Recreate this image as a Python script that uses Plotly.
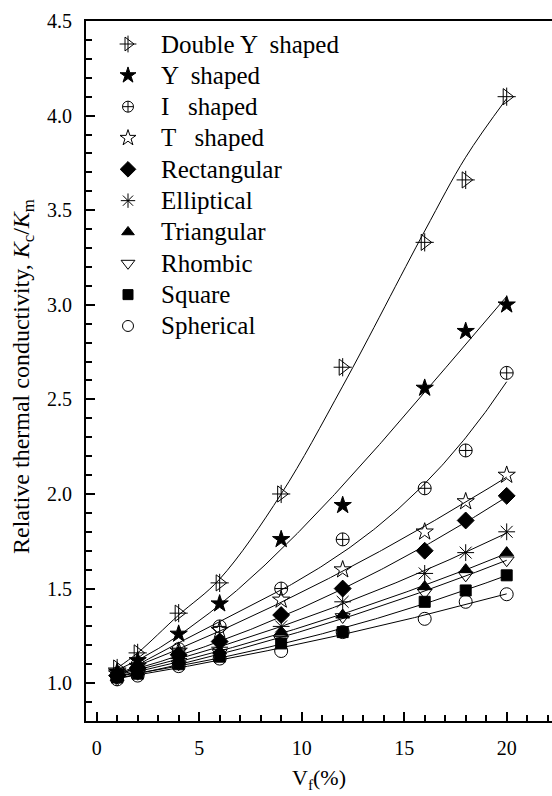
import numpy as np
import plotly.graph_objects as go

# ---------------- data ----------------
vf = [1, 2, 4, 6, 9, 12, 16, 18, 20]

names = ["Double Y  shaped", "Y  shaped", "I   shaped", "T   shaped", "Rectangular",
         "Elliptical", "Triangular", "Rhombic", "Square", "Spherical"]

double_y = [1.08, 1.16, 1.37, 1.53, 2.00, 2.67, 3.33, 3.66, 4.10]
y_shaped = [1.06, 1.12, 1.26, 1.42, 1.76, 1.94, 2.56, 2.86, 3.00]
i_shaped = [1.05, 1.10, 1.18, 1.30, 1.50, 1.76, 2.03, 2.23, 2.64]
t_shaped = [1.05, 1.09, 1.17, 1.28, 1.44, 1.60, 1.80, 1.96, 2.10]
rectangular = [1.04, 1.08, 1.15, 1.22, 1.36, 1.50, 1.70, 1.86, 1.99]
elliptical = [1.04, 1.07, 1.13, 1.19, 1.30, 1.43, 1.58, 1.69, 1.80]
triangular = [1.03, 1.06, 1.12, 1.17, 1.27, 1.36, 1.51, 1.60, 1.69]
rhombic = [1.02, 1.05, 1.10, 1.16, 1.23, 1.35, 1.48, 1.57, 1.65]
square = [1.03, 1.05, 1.10, 1.14, 1.21, 1.27, 1.43, 1.49, 1.57]
spherical = [1.02, 1.04, 1.09, 1.13, 1.17, 1.27, 1.34, 1.43, 1.47]

# fitted curve of the Double Y series at the same Vf values
double_y_fit = [1.08, 1.16, 1.36, 1.55, 2.00, 2.57, 3.39, 3.78, 4.09]

series = [double_y, y_shaped, i_shaped, t_shaped, rectangular,
          elliptical, triangular, rhombic, square, spherical]
fit_degree = [None, 3, 3, 2, 2, 2, 2, 2, 2, 2]

y_ticks = [1.0, 1.5, 2.0, 2.5, 3.0, 3.5, 4.0, 4.5]
x_ticks = [0, 5, 10, 15, 20]

# ---------------- styles ----------------
symbols = ["triangle-right-open", "star", "circle-cross-open", "star-open", "diamond",
           "asterisk-open", "triangle-up", "triangle-down-open", "square", "circle-open"]
sizes = [14, 13, 13, 13, 13, 14, 12, 13, 11, 13]
leg_sizes = [12, 12, 11, 12, 12, 12, 11, 12, 10, 11]

FONT = "Liberation Serif, Times New Roman, serif"

# plot area in pixels (for the overlay used by the legend block)
L, R, T, B = 86, 552, 21, 721
LEG_MARK_X, LEG_TEXT_X, LEG_Y0, LEG_DY = 128, 159, 44, 31.33
YTITLE_X, YTITLE_Y = 23, 377

fig = go.Figure()

# fitted curves
fig.add_trace(go.Scatter(x=vf, y=double_y_fit, mode="lines",
                         line=dict(color="black", width=1, shape="spline", smoothing=1.0),
                         showlegend=False, hoverinfo="skip"))
xs = np.linspace(min(vf), max(vf), 200)
for vals, deg in zip(series, fit_degree):
    if deg is None:
        continue
    coef = np.polyfit(vf, vals, deg)
    fig.add_trace(go.Scatter(x=xs, y=np.polyval(coef, xs), mode="lines",
                             line=dict(color="black", width=1), showlegend=False,
                             hoverinfo="skip"))

for name, vals, sym, sz in zip(names, series, symbols, sizes):
    fig.add_trace(go.Scatter(x=vf, y=vals, mode="markers", name=name, showlegend=False,
                             marker=dict(symbol=sym, size=sz, color="black",
                                         line=dict(color="black", width=1))))
# cross inside the Double Y marker
fig.add_trace(go.Scatter(x=vf, y=double_y, mode="markers", showlegend=False,
                         marker=dict(symbol="cross-thin-open", size=13, color="black",
                                     line=dict(color="black", width=1))))

# ---------------- legend block (pixel overlay axes) ----------------
annotations = []
for i, (name, sym, sz) in enumerate(zip(names, symbols, leg_sizes)):
    yy = LEG_Y0 + i * LEG_DY
    fig.add_trace(go.Scatter(x=[LEG_MARK_X], y=[yy], xaxis="x2", yaxis="y2",
                             mode="markers", showlegend=False, hoverinfo="skip",
                             cliponaxis=False,
                             marker=dict(symbol=sym, size=sz, color="black",
                                         line=dict(color="black", width=1))))
    if i == 0:
        fig.add_trace(go.Scatter(x=[LEG_MARK_X], y=[yy], xaxis="x2", yaxis="y2",
                                 mode="markers", showlegend=False, hoverinfo="skip",
                                 cliponaxis=False,
                                 marker=dict(symbol="cross-thin-open", size=12, color="black",
                                             line=dict(color="black", width=1))))
    annotations.append(dict(x=LEG_TEXT_X, y=yy, xref="x2", yref="y2", text=name,
                            showarrow=False, xanchor="left", yanchor="middle",
                            font=dict(family=FONT, size=25, color="black")))

# y-axis title as a rotated annotation (paper coordinates)
annotations.append(dict(
    x=(YTITLE_X - L) / (R - L), y=(B - YTITLE_Y) / (B - T), xref="paper", yref="paper",
    textangle=-90, showarrow=False, xanchor="center", yanchor="middle",
    text="Relative thermal conductivity, <i>K</i><sub>c</sub>/<i>K</i><sub>m</sub>",
    font=dict(family=FONT, size=24, color="black")))

fig.update_layout(
    width=552, height=796,
    margin=dict(l=L, r=552 - R, t=T, b=796 - B),
    paper_bgcolor="white", plot_bgcolor="white",
    font=dict(family=FONT, size=20, color="black"),
    showlegend=False,
    annotations=annotations,
    xaxis=dict(
        range=[-0.52, 22.21], tickvals=x_ticks, ticktext=[str(v) for v in x_ticks],
        ticks="inside", ticklen=9, tickwidth=1.5, tickcolor="black",
        minor=dict(dtick=1, tick0=0, ticks="inside", ticklen=6, tickwidth=1.5,
                   tickcolor="black"),
        showline=True, linewidth=2, linecolor="black", mirror=True,
        showgrid=False, zeroline=False, ticklabelstandoff=8,
        tickfont=dict(family=FONT, size=20, color="black"),
        title=dict(text="V<sub>f</sub>(%)", font=dict(family=FONT, size=22, color="black"),
                   standoff=12),
    ),
    yaxis=dict(
        range=[0.8, 4.5], tickvals=y_ticks, ticktext=[f"{v:.1f}" for v in y_ticks],
        ticks="inside", ticklen=9, tickwidth=1.5, tickcolor="black",
        minor=dict(dtick=0.1, tick0=0.8, ticks="inside", ticklen=6, tickwidth=1.5,
                   tickcolor="black"),
        showline=True, linewidth=2, linecolor="black", mirror=False,
        showgrid=False, zeroline=False, ticklabelstandoff=8,
        tickfont=dict(family=FONT, size=20, color="black"),
    ),
    xaxis2=dict(overlaying="x", anchor="y2", range=[L, R], visible=False, fixedrange=True),
    yaxis2=dict(overlaying="y", anchor="x2", range=[B, T], visible=False, fixedrange=True),
)

fig.write_html("out.html")
